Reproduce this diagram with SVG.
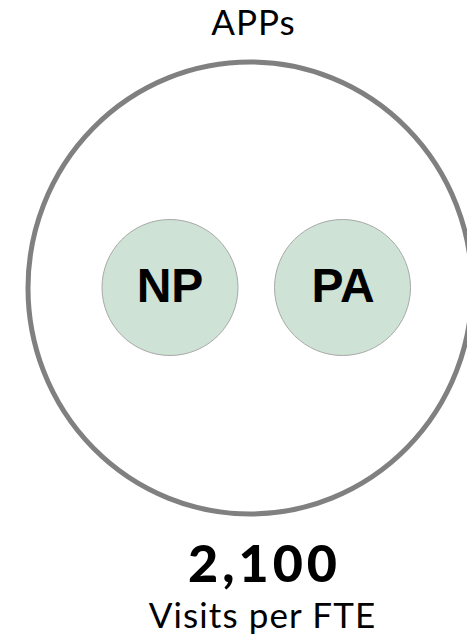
<svg xmlns="http://www.w3.org/2000/svg" width="467" height="636" viewBox="0 0 467 636">
<style>
.outer{fill:none;stroke:#808080;stroke-width:5}
.inner{fill:#cee2d6;stroke:#a9a9a9;stroke-width:1}
.lbl{font-family:"Liberation Sans",Arial,sans-serif;font-weight:bold;font-size:48px;text-anchor:middle;fill:#000}
.thin{font-family:Lato,"Noto Sans","Liberation Sans",sans-serif;font-size:35px;text-anchor:middle;fill:#000}
.big{font-family:Lato,"Noto Sans","Liberation Sans",sans-serif;font-weight:900;font-size:52px;text-anchor:middle;fill:#000;letter-spacing:4px}
</style>
<rect width="467" height="636" fill="#fff"/>
<g id="apps">
<ellipse class="outer" cx="250" cy="288" rx="222" ry="226"/>
<text class="thin" x="253.5" y="35" style="letter-spacing:1px">APPs</text>
</g>
<g id="np">
<circle class="inner" cx="170" cy="287.5" r="68"/>
<text class="lbl" x="170" y="301.5">NP</text>
</g>
<g id="pa">
<circle class="inner" cx="342.5" cy="287.5" r="68"/>
<text class="lbl" x="343" y="301.5">PA</text>
</g>
<g id="stats">
<text class="big" x="264.5" y="581.5">2,100</text>
<text class="thin" x="262.5" y="628" style="letter-spacing:1.1px">Visits per FTE</text>
</g>
<g id="connectors"/>
</svg>
